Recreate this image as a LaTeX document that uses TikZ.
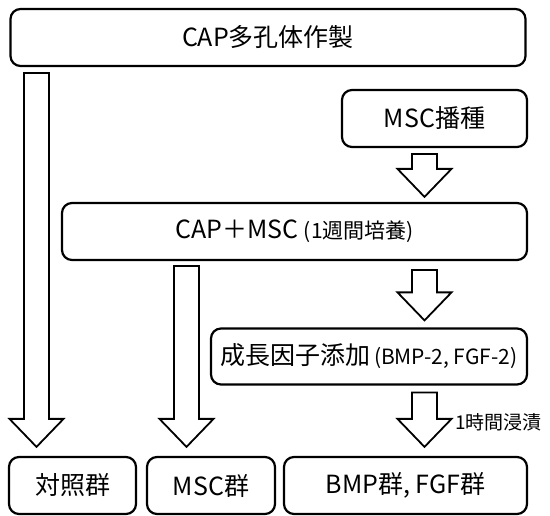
\documentclass[tikz,border=0pt]{standalone}
\usepackage{fontspec}
\setmainfont{Noto Sans CJK JP}
\usetikzlibrary{calc}

\newcommand\subtxt[1]{{\fontsize{21pt}{24pt}\selectfont #1}}
% hollow block arrow: start point, tip point
\newcommand\flowarrow[2]{%
  \draw[hollow] let \p1=(#1), \p2=(#2) in
    (\x1-12.5pt,\y1) -- (\x1-12.5pt,\y2+28pt) -- (\x1-27pt,\y2+28pt) -- (\x2,\y2)
    -- (\x1+27pt,\y2+28pt) -- (\x1+12.5pt,\y2+28pt) -- (\x1+12.5pt,\y1) -- cycle;}

\begin{document}
\begin{tikzpicture}[x=1pt,y=-1pt,
    box/.style={draw, rounded corners=10pt, line width=2.2pt, inner sep=0pt,
      minimum height=57pt, font=\fontsize{25pt}{29pt}\selectfont},
    hollow/.style={draw, fill=white, line width=1.8pt, line join=miter}]
  \useasboundingbox (0,0) rectangle (550,516);

  \node[box, minimum width=515pt] (cap)  at (268,37.5)  {CAP多孔体作製};
  \node[box, minimum width=185pt] (seed) at (434.5,118.5) {MSC播種};
  \node[box, minimum width=465pt] (mix)  at (294.5,231.5) {CAP＋MSC\ \subtxt{(1週間培養)}};
  \node[box, minimum width=316pt, minimum height=56pt] (gf) at (369,356.5) {成長因子添加\subtxt{\,(BMP-2, FGF-2)}};
  \node[box, minimum width=127pt] (ctrl) at (72.5,485.5)  {対照群};
  \node[box, minimum width=128pt] (msc)  at (211,485.5)  {MSC群};
  \node[box, minimum width=243pt] (bmp)  at (405.5,485.5) {BMP群, FGF群};
  \node[anchor=west, inner sep=0pt, font=\fontsize{19pt}{21pt}\selectfont] (soak) at (455,422) {1時間浸漬};

  % arrow columns
  \coordinate (colL) at (36.5,0);
  \coordinate (colM) at (186.5,0);
  \coordinate (colR) at (424.5,0);

  \coordinate (a1s) at ($(seed.south -| colR)+(0,6)$);
  \coordinate (a1e) at ($(mix.north -| colR)+(0,-5)$);
  \coordinate (a2s) at ($(mix.south -| colR)+(0,9)$);
  \coordinate (a2e) at ($(gf.north -| colR)+(0,-7)$);
  \coordinate (a3s) at ($(gf.south -| colR)+(0,7)$);
  \coordinate (a3e) at ($(bmp.north -| colR)+(0,-9)$);
  \coordinate (a4s) at ($(cap.south -| colL)+(0,6)$);
  \coordinate (a4e) at ($(ctrl.north -| colL)+(0,-9)$);
  \coordinate (a5s) at ($(mix.south -| colM)+(0,5)$);
  \coordinate (a5e) at ($(msc.north -| colM)+(0,-9)$);

  \flowarrow{a1s}{a1e}
  \flowarrow{a2s}{a2e}
  \flowarrow{a3s}{a3e}
  \flowarrow{a4s}{a4e}
  \flowarrow{a5s}{a5e}
\end{tikzpicture}
\end{document}
